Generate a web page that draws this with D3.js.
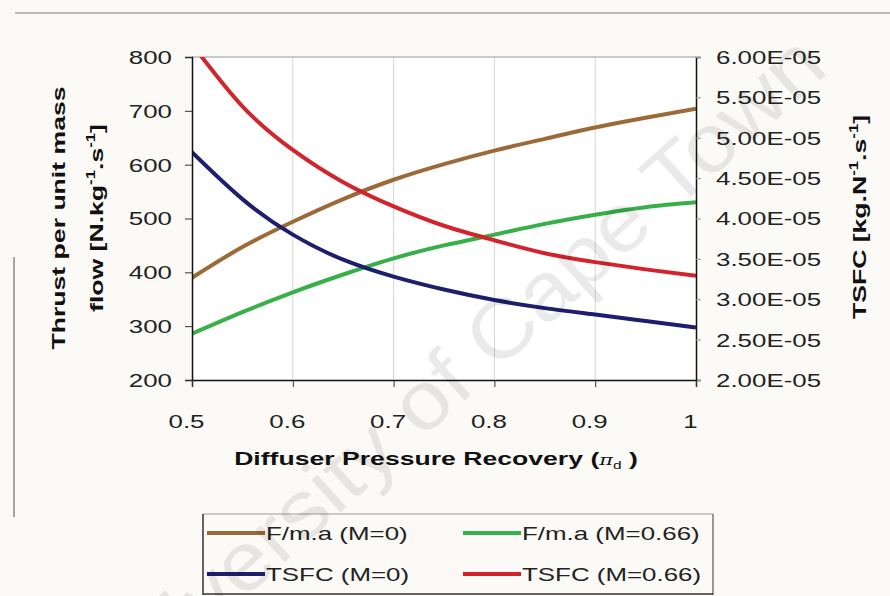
<!DOCTYPE html>
<html lang="en">
<head>
  <meta charset="UTF-8" />
  <title>Diffuser Pressure Recovery</title>
  <script src="https://d3js.org/d3.v7.min.js"></script>
  <style>
    body {
      margin: 0;
      background: #fcfaf7;
    }
    svg {
      display: block;
      font-family: "Liberation Sans", Arial, sans-serif;
    }
  </style>
</head>
<body>
  <svg id="chart" width="890" height="596"></svg>

  <script>
    // ---- data ----
    const recovery = [0.5, 0.55, 0.6, 0.65, 0.7, 0.75, 0.8, 0.85, 0.9, 0.95, 1.0];
    const thrustM0 = [390, 447, 494, 536, 572, 601, 626, 648, 669, 687, 704];
    const thrustM066 = [286, 326, 363, 396, 426, 450, 470, 490, 507, 521, 530];
    const tsfcM0 = [4.82e-5, 4.24e-5, 3.80e-5, 3.49e-5, 3.28e-5, 3.12e-5, 2.99e-5, 2.89e-5, 2.81e-5, 2.73e-5, 2.65e-5];
    const tsfcM066 = [6.16e-5, 5.39e-5, 4.85e-5, 4.45e-5, 4.15e-5, 3.91e-5, 3.73e-5, 3.57e-5, 3.46e-5, 3.37e-5, 3.29e-5];

    const xTicks = [0.5, 0.6, 0.7, 0.8, 0.9, 1];
    const leftTicks = [200, 300, 400, 500, 600, 700, 800];
    const rightTicks = [2e-5, 2.5e-5, 3e-5, 3.5e-5, 4e-5, 4.5e-5, 5e-5, 5.5e-5, 6e-5];

    const series = [
      { name: "F/m.a (M=0)", values: thrustM0, axis: "left", color: "#9c6a38" },
      { name: "F/m.a (M=0.66)", values: thrustM066, axis: "left", color: "#38b04a" },
      { name: "TSFC (M=0)", values: tsfcM0, axis: "right", color: "#1e1f6c" },
      { name: "TSFC (M=0.66)", values: tsfcM066, axis: "right", color: "#d3232b" }
    ];

    // text in the original is drawn wide, so stretch along the baseline
    const SX = 1.4;
    const svg = d3.select("#chart");

    const x = d3.scaleLinear().domain([0.5, 1]).range([192, 696]);
    const yL = d3.scaleLinear().domain([200, 800]).range([380, 57]);
    const yR = d3.scaleLinear().domain([2e-5, 6e-5]).range([380, 57]);

    // outer frame remnants
    svg.append("line").attr("x1", 15).attr("x2", 890).attr("y1", 13).attr("y2", 13)
      .attr("stroke", "#7a7a7a").attr("stroke-width", 1);
    svg.append("line").attr("x1", 14).attr("x2", 14).attr("y1", 257).attr("y2", 517)
      .attr("stroke", "#8a8a8a").attr("stroke-width", 1.5);

    // plot area
    svg.append("rect").attr("x", 192).attr("y", 57).attr("width", 504).attr("height", 323)
      .attr("fill", "#ffffff");

    svg.append("g").selectAll("line")
      .data(xTicks.slice(1, -1))
      .join("line")
      .attr("x1", d => x(d)).attr("x2", d => x(d))
      .attr("y1", 57).attr("y2", 380)
      .attr("stroke", "#d6d6d6").attr("stroke-width", 1);

    svg.append("line").attr("x1", 192).attr("x2", 696).attr("y1", 57).attr("y2", 57)
      .attr("stroke", "#9a9a9a").attr("stroke-width", 1.2);

    svg.append("clipPath").attr("id", "plotClip")
      .append("rect").attr("x", 192).attr("y", 57).attr("width", 504).attr("height", 323);

    const lineGen = s => d3.line()
      .x((d, i) => x(recovery[i]))
      .y(d => (s.axis === "left" ? yL : yR)(d))
      .curve(d3.curveNatural);

    svg.append("g").attr("clip-path", "url(#plotClip)")
      .selectAll("path")
      .data(series)
      .join("path")
      .attr("fill", "none")
      .attr("stroke", d => d.color)
      .attr("stroke-width", 4)
      .attr("d", d => lineGen(d)(d.values));

    // axes
    const fmtR = d => d3.format(".2e")(d).replace("e-5", "E-05");
    const gL = svg.append("g").attr("transform", "translate(192,0)")
      .call(d3.axisLeft(yL).tickValues(leftTicks).tickSize(7).tickFormat(d3.format("d")));
    const gR = svg.append("g").attr("transform", "translate(696,0)")
      .call(d3.axisRight(yR).tickValues(rightTicks).tickSize(5).tickFormat(fmtR));
    const gX = svg.append("g").attr("transform", "translate(0,380)")
      .call(d3.axisBottom(x).tickValues(xTicks).tickSize(7).tickFormat(d3.format("")));

    [gL, gR, gX].forEach(g => {
      g.select(".domain").attr("stroke", "#111").attr("stroke-width", 1.5);
      g.selectAll(".tick line").attr("stroke", "#333");
      g.selectAll("text").attr("font-size", 18.5).attr("fill", "#222")
        .attr("font-family", "\"Liberation Sans\", Arial, sans-serif");
    });
    gR.selectAll(".tick line").attr("stroke", "#999");

    gL.selectAll("text").attr("x", 0).attr("dy", "0.35em")
      .attr("transform", `translate(-20,0) scale(${SX},1)`);
    gR.selectAll("text").attr("x", 0).attr("dy", "0.35em")
      .attr("transform", `translate(20,0) scale(${SX},1)`);
    gX.selectAll("text").attr("y", 0).attr("dy", 0)
      .attr("transform", `translate(-6,48) scale(${SX},1)`);

    // axis titles
    const title = (xx, yy, rot) => svg.append("text")
      .attr("transform", `translate(${xx},${yy})${rot ? ` rotate(${rot})` : ""} scale(${SX},1)`)
      .attr("text-anchor", "middle")
      .attr("font-size", 19)
      .attr("font-weight", "bold")
      .attr("fill", "#111");

    const xt = title(436, 465, 0);
    xt.append("tspan").text("Diffuser Pressure Recovery (");
    xt.append("tspan").attr("font-family", "\"DejaVu Serif\", serif").attr("font-style", "italic")
      .attr("font-weight", "normal").attr("font-size", 15).text("π");
    xt.append("tspan").attr("font-weight", "normal").attr("font-size", 11).attr("dy", 4).text("d");
    xt.append("tspan").attr("dy", -4).text(" )");

    const supText = (t, parts) => parts.forEach(([s, sup]) => {
      const ts = t.append("tspan").text(s);
      if (sup) ts.attr("font-size", 12).attr("dy", -8);
      else ts.attr("dy", t.node().dataset.up ? 8 : 0);
      t.node().dataset.up = sup ? "1" : "";
    });

    title(65, 218, -90).text("Thrust per unit mass");
    supText(title(103, 218, -90), [["flow [N.kg", false], ["-1", true], [".s", false], ["-1", true], ["]", false]]);
    supText(title(866, 217, -90), [["TSFC [kg.N", false], ["-1", true], [".s", false], ["-1", true], ["]", false]]);

    // legend
    const lg = svg.append("g");
    lg.append("line").attr("x1", 203).attr("x2", 713).attr("y1", 514).attr("y2", 514)
      .attr("stroke", "#9a9a9a").attr("stroke-width", 1);
    lg.append("line").attr("x1", 203).attr("x2", 203).attr("y1", 514).attr("y2", 595)
      .attr("stroke", "#333").attr("stroke-width", 1.5);
    lg.append("line").attr("x1", 713).attr("x2", 713).attr("y1", 514).attr("y2", 595)
      .attr("stroke", "#555").attr("stroke-width", 1.2);
    lg.append("line").attr("x1", 203).attr("x2", 713).attr("y1", 594).attr("y2", 594)
      .attr("stroke", "#333").attr("stroke-width", 1.5);

    const legendX = [207, 463];
    const legendY = [533, 574];
    const item = lg.selectAll("g.item")
      .data(series)
      .join("g")
      .attr("class", "item")
      .attr("transform", (d, i) => `translate(${legendX[i % 2]},${legendY[Math.floor(i / 2)]})`);
    item.append("line").attr("x1", 0).attr("x2", 58)
      .attr("stroke", d => d.color).attr("stroke-width", 4);
    item.append("text")
      .attr("transform", `translate(59,7) scale(${SX},1)`)
      .attr("font-size", 18.5)
      .attr("fill", "#222")
      .text(d => d.name);

    // watermark
    svg.append("text")
      .attr("transform", "translate(455,380) rotate(-42) scale(1.1,1)")
      .attr("text-anchor", "middle")
      .attr("dominant-baseline", "middle")
      .attr("font-size", 82)
      .attr("fill", "#000")
      .attr("opacity", 0.08)
      .text("University of Cape Town");
  </script>
</body>
</html>
